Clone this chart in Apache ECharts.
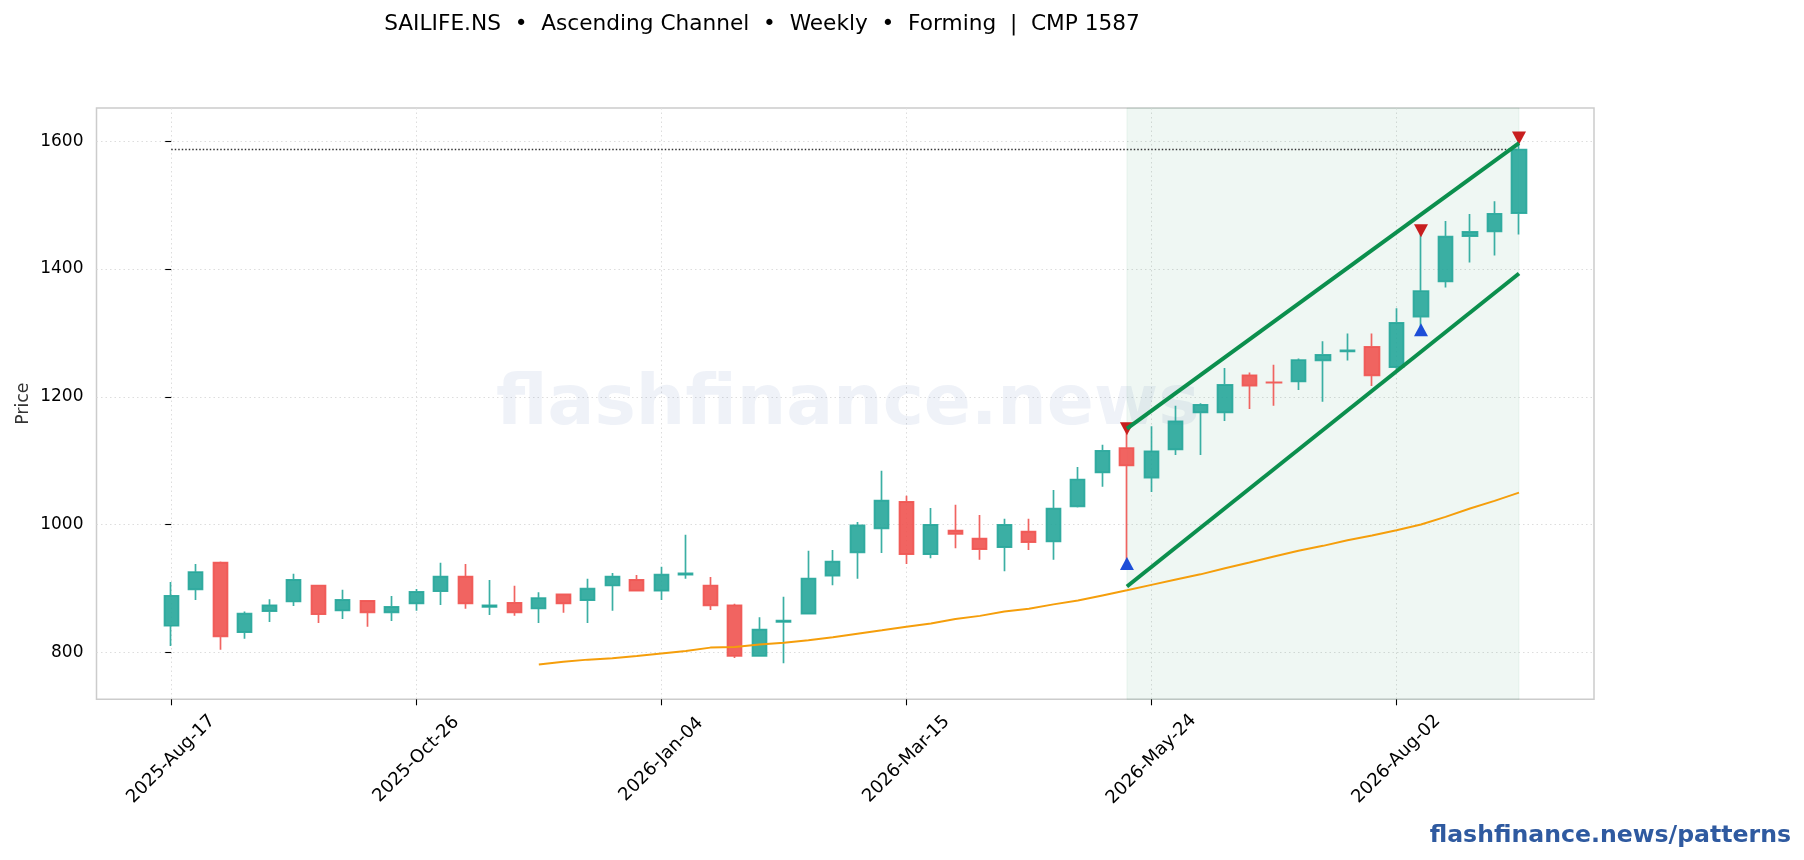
<!DOCTYPE html>
<html>
<head>
<meta charset="utf-8">
<title>SAILIFE.NS</title>
<script src="https://cdn.jsdelivr.net/npm/echarts@6/dist/echarts.min.js"></script>
<style>
	html, body { margin: 0; padding: 0; background: #fff; }
	#chart { width: 1804px; height: 860px; }
</style>
</head>
<body>
<div id="chart"></div>
<script>
// weekly candles, index 0 = 2025-Aug-17
const opens = [841.5, 898.5, 940.5, 831.5, 864.5, 879.5, 904.5, 865.5, 880.5, 862.5, 876.5, 895.5, 918.5, 871, 877.5, 868.5, 890.5, 881.5, 904.5, 913.5, 896.5, 921.5, 904.5, 873.5, 794.5, 847.5, 860.5, 920, 956.5, 994, 1035.5, 953.5, 990.5, 978, 964.5, 989, 973.5, 1028.5, 1081.5, 1119.5, 1073.5, 1117.5, 1175.5, 1175.5, 1233.5, 1222.5, 1224, 1257, 1271, 1278, 1246.5, 1325.5, 1380.5, 1451.5, 1459, 1487.5];
const closes = [888.5, 925.5, 825, 860.5, 873.5, 913.5, 859.5, 882, 862.5, 871, 894.5, 918.5, 876.5, 873.5, 862.5, 885, 876.5, 899.5, 918.5, 896.5, 921.5, 923.5, 873.5, 794.5, 835.5, 849.5, 915.5, 942, 998.5, 1037.5, 953.5, 999.5, 985.5, 961.5, 999.5, 972.5, 1025, 1070.5, 1115.5, 1092.5, 1114.5, 1161.5, 1187.5, 1218.5, 1217.5, 1222, 1257.5, 1265.5, 1272.5, 1233.5, 1315.5, 1365.5, 1450.5, 1458, 1486.5, 1587];
const lows = [810, 882, 804, 821, 847.5, 872.5, 846, 852, 840, 849, 865, 874, 868, 858.5, 857, 846, 862, 846, 865, 895, 882, 915, 866, 791, 793, 783, 859, 905, 915, 955.5, 938, 947, 963, 945, 927, 960, 945, 1026.5, 1059, 939, 1051, 1109, 1109, 1162, 1181, 1186, 1210.6, 1192, 1256.6, 1217, 1240, 1305, 1371, 1410, 1421, 1454];
const highs = [910, 938, 942, 864, 883, 923, 905, 898, 881, 888, 899, 940, 938, 913, 904, 894, 891, 915, 924, 921, 934, 984, 918, 876, 855, 887, 959, 960, 1004, 1084, 1045, 1026, 1031, 1015, 1009, 1009, 1054, 1090, 1125, 1150, 1154, 1186, 1190, 1245, 1238, 1250, 1260, 1287, 1299, 1299, 1338.5, 1460, 1475, 1486, 1506, 1605];

// moving average, begins at candle 15
const ma_start = 15;
const ma_values = [781, 785, 788.5, 790.6, 794, 798, 802, 807.3, 808.4, 812, 815, 819, 823.5, 829, 834.4, 840, 845, 852, 857, 863.7, 868, 875, 881, 889, 897, 905.5, 914, 922, 931.6, 940.5, 950, 958.8, 966.6, 975.5, 982.8, 991, 1000, 1012, 1025, 1037, 1050];

// x axis ticks
const tick_index = [0, 10, 20, 30, 40, 50];
const tick_labels = ["2025-Aug-17", "2025-Oct-26", "2026-Jan-04", "2026-Mar-15", "2026-May-24", "2026-Aug-02"];
const price_ticks = [800, 1000, 1200, 1400, 1600];

// pattern
const channel_upper = [[39, 1150], [55, 1597]];
const channel_lower = [[39, 903], [55, 1393]];
const pattern_span = [39, 55];
const pivot_highs = [[39, 1150], [51, 1460], [55, 1605]];
const pivot_lows = [[39, 939], [51, 1305]];
const cmp_price = 1587;

const FONT = "DejaVu Sans";
const GRID_LINE = { color: "#ddd", width: 1, type: [1.5, 3] };
const candle_data = opens.map(function (o, i) {
	return [i, o, closes[i], lows[i], highs[i]];
});
const ma_data = ma_values.map(function (v, i) {
	return [ma_start + i, v];
});

const chart = echarts.init(document.getElementById("chart"));
chart.setOption({
	animation: false,
	backgroundColor: "#fff",
	textStyle: { fontFamily: FONT },
	title: [
		{
			text: "SAILIFE.NS  •  Ascending Channel  •  Weekly  •  Forming  |  CMP 1587",
			left: 757,
			top: 8,
			textAlign: "center",
			textStyle: { fontFamily: FONT, fontSize: 21.67, fontWeight: "normal", color: "#000" }
		},
		{
			text: "flashfinance.news/patterns",
			right: 8,
			top: 819,
			textStyle: { fontFamily: FONT, fontSize: 23.6, fontWeight: "bold", color: "#2f5aa0" }
		}
	],
	// watermark sits under the candles
	graphic: [{
		type: "text",
		left: 496,
		top: 371,
		z: 1,
		style: {
			text: "flashfinance.news",
			font: "bold 69.5px " + FONT,
			fill: "rgba(30, 70, 150, 0.07)"
		}
	}],
	grid: {
		left: 96.5,
		top: 108,
		width: 1497.5,
		height: 591.3,
		outerBoundsMode: "none",
		show: true,
		borderColor: "#ccc",
		borderWidth: 1.5,
		backgroundColor: "#fff"
	},
	xAxis: {
		type: "value",
		min: -3.05,
		max: 58.06,
		axisLine: { show: false },
		axisTick: {
			show: true,
			length: 6,
			customValues: tick_index,
			lineStyle: { color: "#000", width: 1.1 }
		},
		splitLine: { show: true, lineStyle: GRID_LINE },
		axisLabel: {
			customValues: tick_index,
			rotate: 45,
			margin: 60,
			align: "center",
			verticalAlign: "middle",
			fontFamily: FONT,
			fontSize: 18,
			color: "#000",
			formatter: function (v) {
				return tick_labels[tick_index.indexOf(v)];
			}
		}
	},
	yAxis: {
		type: "value",
		min: 726.4,
		max: 1652,
		name: "Price",
		nameLocation: "middle",
		nameMoveOverlap: false,
		nameGap: 64.5,
		nameTextStyle: { fontFamily: FONT, fontSize: 17.3, color: "#333" },
		axisLine: { show: false },
		axisTick: {
			show: true,
			length: 6,
			customValues: price_ticks,
			lineStyle: { color: "#000", width: 1.1 }
		},
		splitLine: { show: true, lineStyle: GRID_LINE },
		axisLabel: {
			customValues: price_ticks,
			margin: 13,
			padding: [3, 0, 0, 0],
			fontFamily: FONT,
			fontSize: 17,
			color: "#000",
			formatter: function (v) {
				return String(v);
			}
		}
	},
	series: [
		{
			// pattern window shading
			type: "line",
			data: [],
			z: 1,
			markArea: {
				silent: true,
				itemStyle: {
					color: "rgba(16, 140, 80, 0.065)",
					borderColor: "rgba(16, 140, 80, 0.065)",
					borderWidth: 1
				},
				data: [[{ xAxis: pattern_span[0] }, { xAxis: pattern_span[1] }]]
			}
		},
		{
			type: "line",
			data: [[0, cmp_price], [55, cmp_price]],
			z: 2,
			symbol: "none",
			lineStyle: { color: "#333", width: 1.4, type: [1.5, 2] }
		},
		{
			type: "candlestick",
			data: candle_data,
			z: 3,
			barWidth: 14.6,
			itemStyle: {
				color: "#26a69a",
				color0: "#ef5350",
				borderColor: "#26a69a",
				borderColor0: "#ef5350",
				borderWidth: 1.7,
				opacity: 0.9
			}
		},
		{
			type: "line",
			data: ma_data,
			z: 4,
			symbol: "none",
			lineStyle: { color: "#f59e0b", width: 2 }
		},
		{
			type: "scatter",
			data: pivot_highs,
			z: 5,
			symbol: "triangle",
			symbolRotate: 180,
			symbolSize: [14, 13],
			itemStyle: { color: "#c81e1e", opacity: 1 }
		},
		{
			type: "scatter",
			data: pivot_lows,
			z: 5,
			symbol: "triangle",
			symbolSize: [14, 13],
			itemStyle: { color: "#1d4ed8", opacity: 1 }
		},
		{
			type: "line",
			data: channel_upper,
			z: 6,
			symbol: "none",
			lineStyle: { color: "#0b8f4d", width: 4 }
		},
		{
			type: "line",
			data: channel_lower,
			z: 6,
			symbol: "none",
			lineStyle: { color: "#0b8f4d", width: 4 }
		}
	]
});
window.addEventListener("resize", chart.resize);
</script>
</body>
</html>
